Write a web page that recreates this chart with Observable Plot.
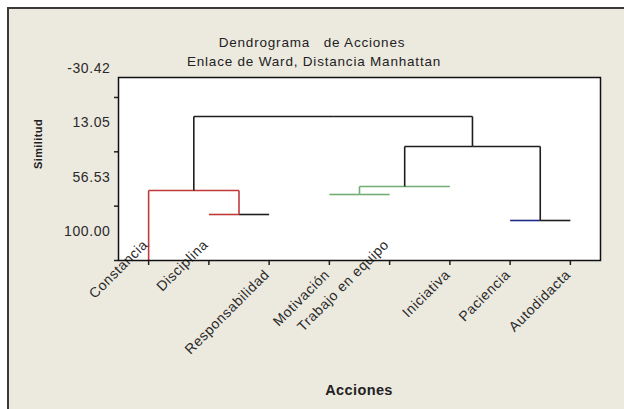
<!DOCTYPE html>
<html>
<head>
<meta charset="utf-8">
<script src="https://cdn.jsdelivr.net/npm/d3@7"></script>
<script src="https://cdn.jsdelivr.net/npm/@observablehq/plot@0.6"></script>
<style>
  html, body { margin: 0; padding: 0; background: #ffffff; overflow: hidden; }
  #page { position: relative; width: 624px; height: 409px; overflow: hidden; font-family: "Liberation Sans", Arial, sans-serif; color: #222; }
  #frame { position: absolute; left: 7px; top: 7px; width: 660px; height: 440px; background: #ece9df; border-left: 2px solid #3a3a3a; border-top: 2px solid #3a3a3a; }
  #chart { position: absolute; left: 0; top: 0; }
  .t { position: absolute; white-space: nowrap; transform: translate(-50%, -50%); letter-spacing: 0.8px; }
  #title { left: 312px; top: 42px; font-size: 13.5px; }
  #subtitle { left: 314px; top: 61px; font-size: 13.5px; }
  #xlabel { left: 359px; top: 390px; font-size: 14.5px; font-weight: bold; letter-spacing: 0.4px; }
  #ylabel { left: 38px; top: 144px; font-size: 11px; font-weight: bold; letter-spacing: 0.4px; transform: translate(-50%, -50%) rotate(-90deg); }
</style>
</head>
<body>
<div id="page">
  <div id="frame"></div>
  <div id="chart"></div>
  <div class="t" id="title">Dendrograma&nbsp;&nbsp; de Acciones</div>
  <div class="t" id="subtitle">Enlace de Ward, Distancia Manhattan</div>
  <div class="t" id="xlabel">Acciones</div>
  <div class="t" id="ylabel">Similitud</div>
</div>
<script>
// ---- data ----
const leaves = ["Constancia", "Disciplina", "Responsabilidad", "Motivación", "Trabajo en equipo", "Iniciativa", "Paciencia", "Autodidacta"];
const leafBranch = ["red", "red", "dark", "green", "green", "green", "blue", "dark"];
// merges: [child A, child B, similarity]; leaves are 0..7, merge k is node 8+k
const mergeA = [1, 6, 3, 10, 0, 11, 12];
const mergeB = [2, 7, 4, 5, 8, 9, 13];
const mergeSim = [63.2, 68.0, 47.2, 40.8, 44.0, 8.8, -15.2];
const mergeBranch = ["red", "dark", "green", "dark", "dark", "dark", "dark"];
const stems = ["Constancia"];
const raised = ["Constancia", "Disciplina", "Trabajo en equipo"];
const yTicks = [-30.42, 13.05, 56.53, 100.00];
const yDomain = [-46.4, 100];

const palette = {red: "#c0393b", green: "#74ad74", blue: "#1d2a86", dark: "#1e1e1e"};

// ---- build node positions and segments ----
const X = leaves.map((d, i) => i + 1);
const H = leaves.map(() => 100);
const C = leafBranch.slice();
mergeSim.forEach((s, k) => {
  X.push((X[mergeA[k]] + X[mergeB[k]]) / 2);
  H.push(s);
  C.push(mergeBranch[k]);
});
const segs = [];
mergeSim.forEach((s, k) => {
  const node = leaves.length + k;
  for (const c of [mergeA[k], mergeB[k]]) {
    segs.push({x1: X[c], x2: X[node], y1: H[node], y2: H[node], color: palette[C[c]]});
    if (c >= leaves.length || stems.includes(leaves[c])) {
      segs.push({x1: X[c], x2: X[c], y1: H[c], y2: H[node], color: palette[C[c]]});
    }
  }
});

const idx = d3.range(leaves.length);

const chart = Plot.plot({
  width: 624,
  height: 409,
  marginLeft: 118,
  marginRight: 24,
  marginTop: 77,
  marginBottom: 149,
  style: {fontFamily: "'Liberation Sans', Arial, sans-serif", background: "transparent", letterSpacing: "0.6px", color: "#222"},
  x: {domain: [0.5, leaves.length + 0.5], axis: null},
  y: {domain: yDomain, reverse: true, axis: null},
  color: {type: "identity"},
  marks: [
    Plot.frame({fill: "white"}),
    Plot.link(segs, {x1: "x1", y1: "y1", x2: "x2", y2: "y2", stroke: "color", strokeWidth: 1.6}),
    Plot.axisY({ticks: yTicks, anchor: "left", tickSize: 4, tickFormat: () => "", label: null, strokeWidth: 1.5}),
    Plot.text(yTicks, {y: d => d, frameAnchor: "left", dx: -8, dy: -29, textAnchor: "end", text: d => d.toFixed(2), fontSize: 14, fill: "#2a2a2a"}),
    Plot.axisX({ticks: X.slice(0, leaves.length), anchor: "bottom", tickSize: 5, tickFormat: () => "", label: null, strokeWidth: 1.5}),
    Plot.text(idx.filter(i => !raised.includes(leaves[i])), {x: i => X[i], frameAnchor: "bottom", text: i => leaves[i], rotate: -45, textAnchor: "end", dx: 1, dy: 15, fontSize: 14, fill: "#2a2a2a"}),
    Plot.text(idx.filter(i => raised.includes(leaves[i])), {x: i => X[i], frameAnchor: "bottom", text: i => leaves[i], rotate: -45, textAnchor: "end", dx: 0, dy: -15, fontSize: 14, fill: "#2a2a2a"}),
    Plot.frame({stroke: "#111", strokeWidth: 1.5})
  ]
});
document.getElementById("chart").appendChild(chart);
</script>
</body>
</html>
